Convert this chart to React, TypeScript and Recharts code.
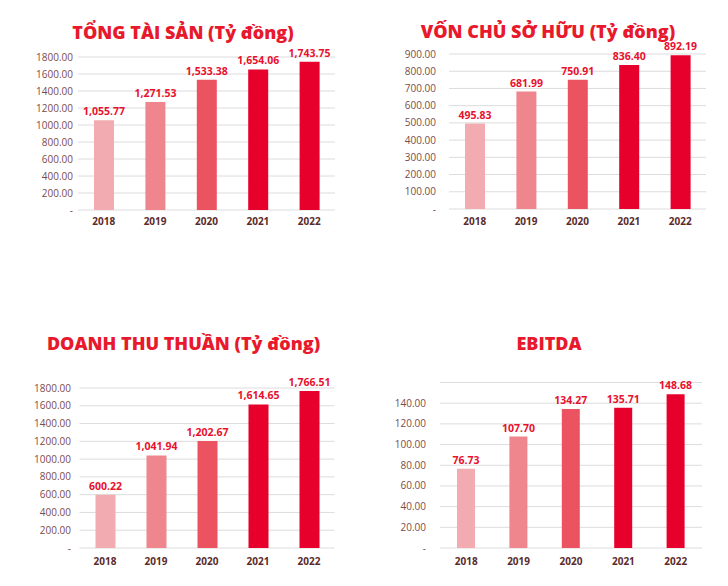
import React from 'react';
import { BarChart, Bar, XAxis, YAxis, CartesianGrid, LabelList, Cell } from 'recharts';

const years = ['2018', '2019', '2020', '2021', '2022'];
const totalAssets = [1055.77, 1271.53, 1533.38, 1654.06, 1743.75];
const equity = [495.83, 681.99, 750.91, 836.4, 892.19];
const netRevenue = [600.22, 1041.94, 1202.67, 1614.65, 1766.51];
const ebitda = [76.73, 107.7, 134.27, 135.71, 148.68];

const ticksAssets = [0, 200, 400, 600, 800, 1000, 1200, 1400, 1600, 1800];
const ticksEquity = [0, 100, 200, 300, 400, 500, 600, 700, 800, 900];
const ticksRevenue = [0, 200, 400, 600, 800, 1000, 1200, 1400, 1600, 1800];
const ticksEbitda = [0, 20, 40, 60, 80, 100, 120, 140];

const barColors = ['#f2abb0', '#ef868e', '#eb5361', '#e8002d', '#e8002d'];
const FONT = '"Open Sans", sans-serif';

const fmtTick = (v: number) => (v === 0 ? '-' : v.toFixed(2));
const fmtLabel = (v: any) =>
  Number(v).toLocaleString('en-US', { minimumFractionDigits: 2, maximumFractionDigits: 2 });

type PanelProps = {
  title: string;
  values: number[];
  ticks: number[];
  domain: [number, number];
  left: number;
  top: number;
  width: number;
  height: number;
  titleY: number;
  titleCx: number;
  margin: { top: number; right: number; left: number; bottom: number };
  yWidth: number;
  yTickMargin: number;
  xHeight: number;
  xTickMargin: number;
  barSize: number;
};

function Panel(p: PanelProps) {
  const data = years.map((y, i) => ({ year: y, value: p.values[i] }));
  return (
    <div style={{ position: 'absolute', left: p.left, top: p.top, width: p.width, height: p.height }}>
      <BarChart width={p.width} height={p.height} data={data} margin={p.margin}>
        <CartesianGrid vertical={false} stroke="#dcdcdc" strokeWidth={1} />
        <XAxis
          dataKey="year"
          axisLine={false}
          tickLine={false}
          tickSize={0}
          tickMargin={p.xTickMargin}
          height={p.xHeight}
          interval={0}
          tick={{ fill: '#5b2b2b', fontSize: 10, fontWeight: 700, fontFamily: FONT }}
        />
        <YAxis
          type="number"
          domain={p.domain}
          ticks={p.ticks}
          interval={0}
          axisLine={false}
          tickLine={false}
          tickSize={0}
          tickMargin={p.yTickMargin}
          width={p.yWidth}
          tickFormatter={fmtTick}
          tick={{ fill: '#7b4b4b', fontSize: 10, fontFamily: FONT }}
        />
        <Bar dataKey="value" barSize={p.barSize} isAnimationActive={false}>
          {data.map((d, i) => (
            <Cell key={d.year} fill={barColors[i]} />
          ))}
          <LabelList
            dataKey="value"
            position="top"
            offset={5}
            formatter={fmtLabel}
            style={{ fill: '#e8112d', fontSize: 10.5, fontWeight: 700, fontFamily: FONT }}
          />
        </Bar>
      </BarChart>
      <div
        style={{
          position: 'absolute',
          left: p.titleCx - 200,
          width: 400,
          top: p.titleY - 10,
          height: 20,
          lineHeight: '20px',
          textAlign: 'center',
          fontFamily: FONT,
          fontWeight: 800,
          fontSize: 18,
          color: '#e8192c',
          whiteSpace: 'nowrap',
        }}
      >
        {p.title}
      </div>
    </div>
  );
}

export default function App() {
  return (
    <div style={{ position: 'absolute', left: 0, top: 0, width: 728, height: 586, background: '#fff' }}>
      <Panel
        title="TỔNG TÀI SẢN (Tỷ đồng)"
        values={totalAssets}
        ticks={ticksAssets}
        domain={[0, 1800]}
        left={0}
        top={0}
        width={364}
        height={240}
        titleY={32}
        titleCx={183}
        margin={{ top: 57, right: 29, left: 0, bottom: 0 }}
        yWidth={78}
        yTickMargin={5}
        xHeight={30}
        xTickMargin={8}
        barSize={20}
      />
      <Panel
        title="VỐN CHỦ SỞ HỮU (Tỷ đồng)"
        values={equity}
        ticks={ticksEquity}
        domain={[0, 900]}
        left={364}
        top={0}
        width={364}
        height={240}
        titleY={31}
        titleCx={184}
        margin={{ top: 54, right: 22, left: 0, bottom: 0 }}
        yWidth={85}
        yTickMargin={13}
        xHeight={31}
        xTickMargin={9}
        barSize={20}
      />
      <Panel
        title="DOANH THU THUẦN (Tỷ đồng)"
        values={netRevenue}
        ticks={ticksRevenue}
        domain={[0, 1800]}
        left={0}
        top={320}
        width={364}
        height={266}
        titleY={23}
        titleCx={183.5}
        margin={{ top: 68, right: 29.5, left: 0, bottom: 0 }}
        yWidth={79.5}
        yTickMargin={8.5}
        xHeight={38}
        xTickMargin={9.5}
        barSize={20}
      />
      <Panel
        title="EBITDA"
        values={ebitda}
        ticks={ticksEbitda}
        domain={[0, 160]}
        left={364}
        top={320}
        width={364}
        height={266}
        titleY={23}
        titleCx={185}
        margin={{ top: 62.5, right: 26, left: 0, bottom: 0 }}
        yWidth={76}
        yTickMargin={14}
        xHeight={38}
        xTickMargin={9.5}
        barSize={18}
      />
    </div>
  );
}
